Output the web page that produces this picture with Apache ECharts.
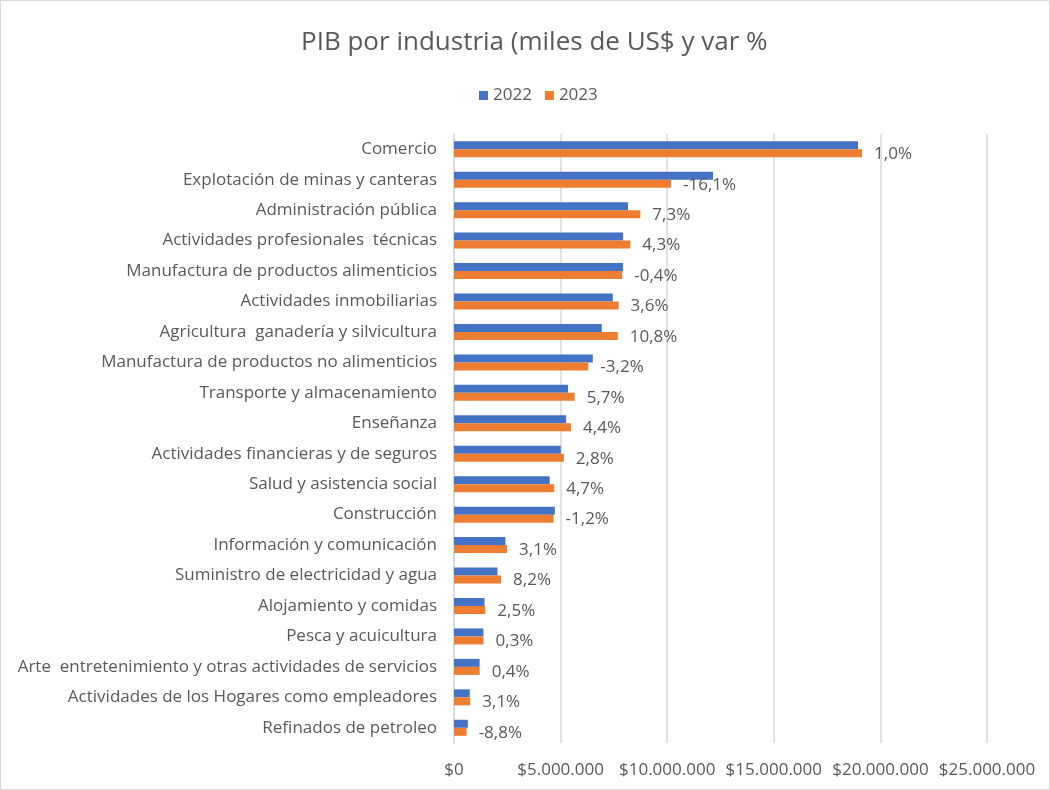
<!DOCTYPE html>
<html>
<head>
<meta charset="utf-8">
<script src="https://cdn.jsdelivr.net/npm/echarts@6/dist/echarts.min.js"></script>
<style>
  html, body { margin: 0; padding: 0; background: #fff; }
  #chart { width: 1048px; height: 788px; border: 1px solid #d9d9d9; }
</style>
</head>
<body>
<div id="chart"></div>
<script>
// industrias, de arriba hacia abajo
var categories = [
  'Comercio',
  'Explotación de minas y canteras',
  'Administración pública',
  'Actividades profesionales  técnicas',
  'Manufactura de productos alimenticios',
  'Actividades inmobiliarias',
  'Agricultura  ganadería y silvicultura',
  'Manufactura de productos no alimenticios',
  'Transporte y almacenamiento',
  'Enseñanza',
  'Actividades financieras y de seguros',
  'Salud y asistencia social',
  'Construcción',
  'Información y comunicación',
  'Suministro de electricidad y agua',
  'Alojamiento y comidas',
  'Pesca y acuicultura',
  'Arte  entretenimiento y otras actividades de servicios',
  'Actividades de los Hogares como empleadores',
  'Refinados de petroleo'
];
// miles de US$
var pib2022 = [18950000, 12150000, 8160000, 7930000, 7930000, 7450000, 6930000, 6510000, 5350000, 5260000,
               5010000, 4490000, 4730000, 2410000, 2040000, 1430000, 1380000, 1200000, 740000, 650000];
var pib2023 = [19140000, 10180000, 8740000, 8270000, 7890000, 7720000, 7680000, 6300000, 5660000, 5490000,
               5150000, 4700000, 4670000, 2490000, 2210000, 1470000, 1385000, 1205000, 763000, 593000];
// variación %
var variacion = [1.0, -16.1, 7.3, 4.3, -0.4, 3.6, 10.8, -3.2, 5.7, 4.4,
                 2.8, 4.7, -1.2, 3.1, 8.2, 2.5, 0.3, 0.4, 3.1, -8.8];

var FONT = 'Open Sans';
var GRAY = '#595959';

function fmtMoney(v) {
  return '$' + String(v).replace(/\B(?=(\d{3})+(?!\d))/g, '.');
}

var chart = echarts.init(document.getElementById('chart'));
var option = {
  animation: false,
  color: ['#4472C4', '#ED7D31'],
  textStyle: { fontFamily: FONT },
  title: {
    text: 'PIB por industria (miles de US$ y var %',
    left: 295,
    top: 24,
    textStyle: { fontFamily: FONT, fontSize: 26, fontWeight: 'normal', color: GRAY }
  },
  legend: {
    top: 81,
    left: 473,
    itemWidth: 9,
    itemHeight: 9,
    itemGap: 13,
    icon: 'rect',
    textStyle: { fontFamily: FONT, fontSize: 17, color: GRAY },
    data: ['2022', '2023']
  },
  grid: { left: 453, right: 62, top: 133, bottom: 46 },
  xAxis: {
    type: 'value',
    min: 0,
    max: 25000000,
    interval: 5000000,
    axisLine: { show: false },
    axisTick: { show: false },
    splitLine: { lineStyle: { color: '#d9d9d9', width: 1.5 } },
    axisLabel: {
      formatter: fmtMoney,
      fontFamily: FONT,
      fontSize: 17,
      color: GRAY,
      margin: 19
    }
  },
  yAxis: {
    type: 'category',
    inverse: true,
    data: categories,
    axisLine: { show: true, lineStyle: { color: '#d9d9d9', width: 1.5 } },
    axisTick: { show: false },
    axisLabel: { fontFamily: FONT, fontSize: 17, color: GRAY, margin: 17 }
  },
  series: [
    {
      name: '2022',
      type: 'bar',
      data: pib2022,
      barWidth: 8,
      barGap: '0%'
    },
    {
      name: '2023',
      type: 'bar',
      data: pib2023,
      barWidth: 8,
      barGap: '0%',
      label: {
        show: true,
        position: 'right',
        distance: 12,
        offset: [0, 1],
        fontFamily: FONT,
        fontSize: 17,
        color: GRAY,
        formatter: function (p) {
          return variacion[p.dataIndex].toFixed(1).replace('.', ',') + '%';
        }
      }
    }
  ]
};
chart.setOption(option);
</script>
</body>
</html>
